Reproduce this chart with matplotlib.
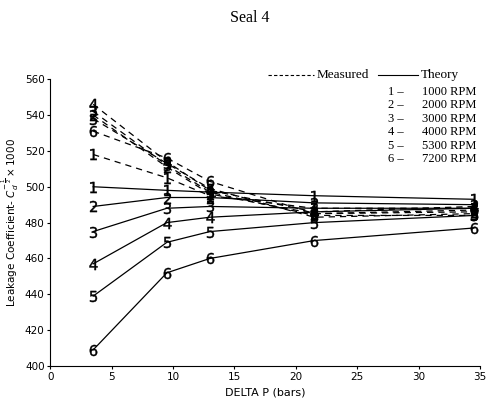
import matplotlib
matplotlib.use("Agg")
import matplotlib.pyplot as plt

delta_p = [3.5, 9.5, 13.0, 21.5, 34.5]
speeds = ["1000", "2000", "3000", "4000", "5300", "7200"]

theory = [
    [500, 498, 497, 495, 493],
    [489, 494, 494, 491, 490],
    [475, 488, 489, 488, 488],
    [457, 480, 483, 486, 488],
    [439, 469, 475, 480, 484],
    [409, 452, 460, 470, 477],
]
measured = [
    [518, 505, 495, 488, 488],
    [540, 511, 496, 485, 486],
    [542, 512, 497, 484, 484],
    [546, 514, 498, 486, 489],
    [538, 513, 499, 483, 485],
    [531, 516, 503, 485, 487],
]

fig = plt.figure(figsize=(4.87, 4.04), dpi=100)
ax = fig.add_axes([0.103, 0.094, 0.883, 0.710])

for i in range(6):
    mk = r"$%d$" % (i + 1)
    ax.plot(delta_p, theory[i], color="black", lw=0.9, marker=mk, ms=8,
            markeredgewidth=0.3)
    ax.plot(delta_p, measured[i], color="black", lw=0.9, ls=(0, (5, 4)),
            marker=mk, ms=8, markeredgewidth=0.3)

ax.set_xlim(0, 35)
ax.set_ylim(400, 560)
ax.set_xticks(range(0, 36, 5))
ax.set_yticks(range(400, 561, 20))
for s in ["top", "right"]:
    ax.spines[s].set_visible(False)
ax.tick_params(labelsize=7.5, length=2, direction="out", pad=2)
ax.set_xlabel("DELTA P (bars)", fontsize=8)
ax.set_ylabel(r"Leakage Coefficient- $C_d^{-\frac{1}{2}}\times 1000$", fontsize=7.5,
              labelpad=3)

serif = "Liberation Serif"
fig.text(0.513, 0.955, "Seal 4", ha="center", va="center", family=serif, fontsize=11.5)

# legend header
ly = 1 - 75 / 404
fig.add_artist(plt.Line2D([268 / 487, 314 / 487], [ly, ly], color="black", lw=0.8,
                          ls=(0, (3, 2)), transform=fig.transFigure))
fig.text(317 / 487, ly, "Measured", family=serif, fontsize=9.5, va="center")
fig.add_artist(plt.Line2D([378 / 487, 418 / 487], [ly, ly], color="black", lw=0.8,
                          transform=fig.transFigure))
fig.text(421 / 487, ly, "Theory", family=serif, fontsize=9.5, va="center")
rows_y = [92, 105, 119, 132, 146, 159]
for i, (sp, yy) in enumerate(zip(speeds, rows_y)):
    fy = 1 - yy / 404
    fig.text(388 / 487, fy, "%d \u2013" % (i + 1), family=serif, fontsize=9, va="center")
    fig.text(422 / 487, fy, "%s RPM" % sp, family=serif, fontsize=9, va="center")

fig.savefig("out.png", dpi=100)
